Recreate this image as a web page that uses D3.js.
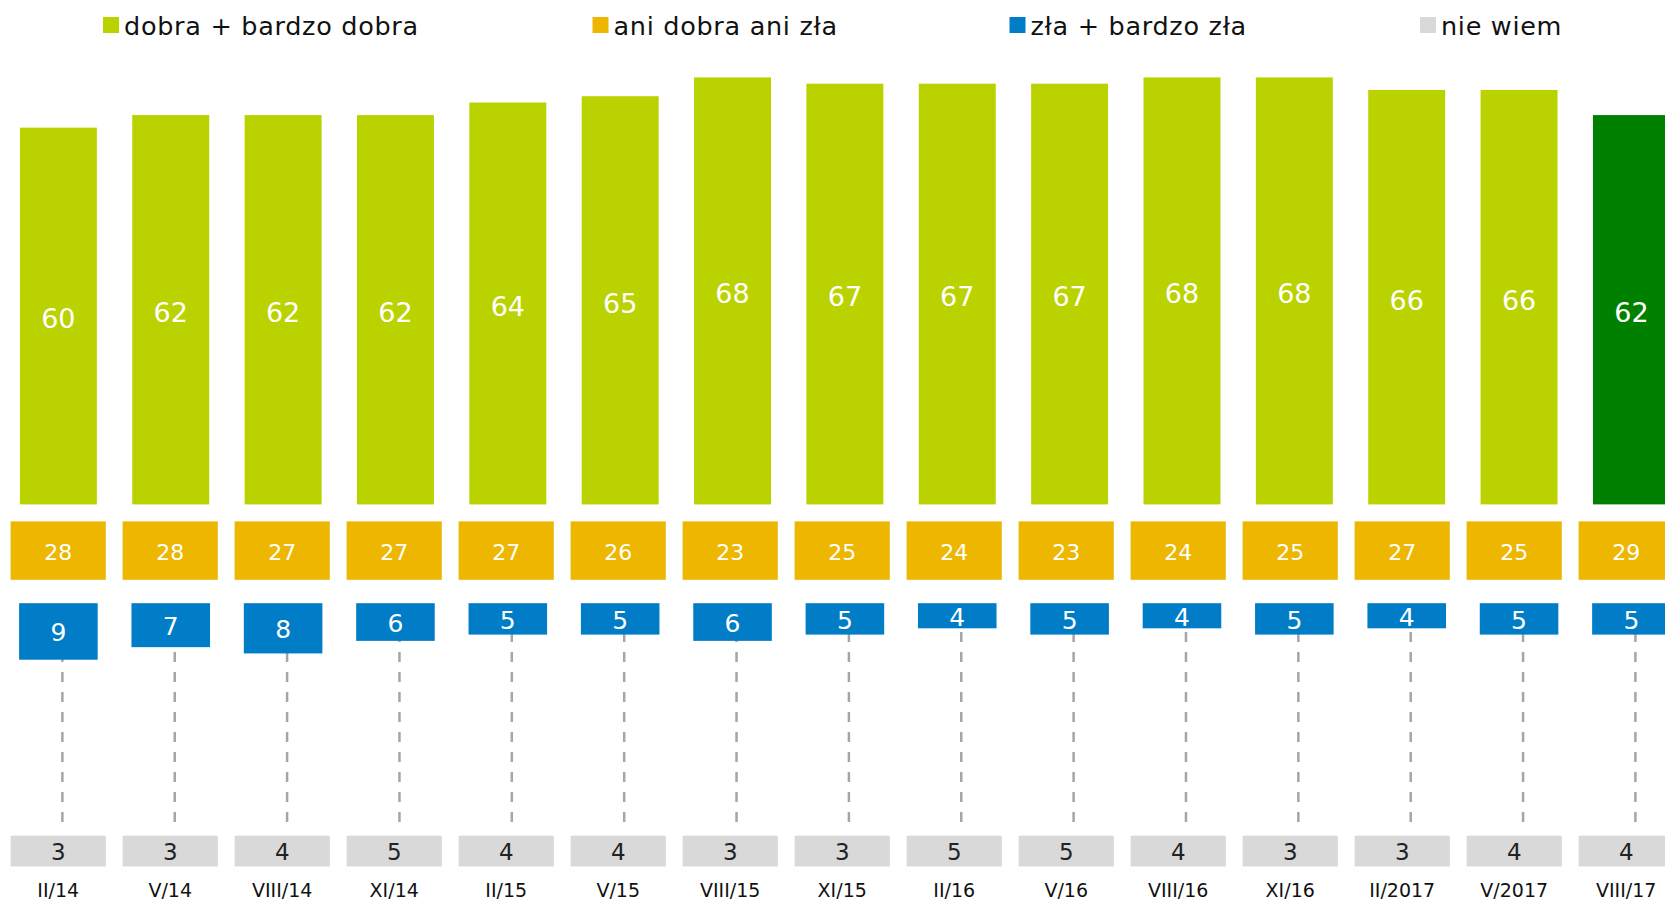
<!DOCTYPE html>
<html>
<head>
<meta charset="utf-8">
<script src="https://cdn.jsdelivr.net/npm/d3@7"></script>
<style>
  body { margin: 0; background: #fff; }
  text { font-family: Verdana, "DejaVu Sans", sans-serif; }
</style>
</head>
<body>
<svg width="1665" height="900"></svg>
<script>
const periods = ["II/14", "V/14", "VIII/14", "XI/14", "II/15", "V/15", "VIII/15", "XI/15",
                 "II/16", "V/16", "VIII/16", "XI/16", "II/2017", "V/2017", "VIII/17"];
const good = [60, 62, 62, 62, 64, 65, 68, 67, 67, 67, 68, 68, 66, 66, 62];
const neither = [28, 28, 27, 27, 27, 26, 23, 25, 24, 23, 24, 25, 27, 25, 29];
const bad = [9, 7, 8, 6, 5, 5, 6, 5, 4, 5, 4, 5, 4, 5, 5];
const dontKnow = [3, 3, 4, 5, 4, 4, 3, 3, 5, 5, 4, 3, 3, 4, 4];
const seriesNames = ["dobra + bardzo dobra", "ani dobra ani zła", "zła + bardzo zła", "nie wiem"];

const colors = {good: "#bad200", latest: "#008000", neither: "#edb600", bad: "#007dc6", dontKnow: "#d9d9d9"};

const svg = d3.select("svg");

// bars (green + blue)
const x = d3.scaleBand()
    .domain(periods)
    .range([2.2, 1687.6])
    .paddingInner(0.315)
    .paddingOuter(0.1575);

// boxes (orange + grey) sit on a slightly tighter grid
const xb = x.copy().range([2.2, 2.2 + 15 * 112.0]);

// one unit is about 6.27px for every bar
const h = d3.scaleLinear().domain([0, 68]).range([0, 427]);

const greenBase = 504.4;
const blueTop = 603.2;
const boxW = xb.step() * 0.85;
const cx = d => x(d) + x.bandwidth() / 2;
const bx = d => xb(d) + xb.bandwidth() / 2;
const last = periods[periods.length - 1];

// legend
const legendX = [103, 592.5, 1009.5, 1420];
const legendCol = [colors.good, colors.neither, colors.bad, colors.dontKnow];
const lg = svg.append("g").selectAll("g")
    .data(seriesNames).enter()
    .append("g")
    .attr("transform", (d, i) => "translate(" + legendX[i] + ",17)");
lg.append("rect").attr("width", 16).attr("height", 16).attr("fill", (d, i) => legendCol[i]);
lg.append("text")
    .attr("x", 21).attr("y", 9)
    .attr("dy", "0.35em")
    .style("font-size", "25.5px")
    .style("letter-spacing", "0.7px")
    .attr("fill", "#111")
    .text(d => d);

// dashed connectors for "nie wiem" (behind the blue boxes)
svg.append("g").selectAll("line")
    .data(periods).enter()
    .append("line")
    .attr("x1", d => cx(d) + 4).attr("x2", d => cx(d) + 4)
    .attr("y1", 612).attr("y2", 822)
    .attr("stroke", "#a6a6a6")
    .attr("stroke-width", 2.5)
    .attr("stroke-dasharray", "10,10");

// dobra + bardzo dobra
const gGood = svg.append("g");
gGood.selectAll("rect")
    .data(good).enter()
    .append("rect")
    .attr("x", (d, i) => x(periods[i]))
    .attr("y", d => greenBase - h(d))
    .attr("width", x.bandwidth())
    .attr("height", d => h(d))
    .attr("fill", (d, i) => periods[i] === last ? colors.latest : colors.good);
gGood.selectAll("text")
    .data(good).enter()
    .append("text")
    .attr("x", (d, i) => cx(periods[i]))
    .attr("y", d => greenBase - h(d) / 2 + 3)
    .attr("dy", "0.35em")
    .attr("text-anchor", "middle")
    .attr("fill", "#fff")
    .style("font-size", "27px")
    .text(d => d);

// ani dobra ani zła
const gNeither = svg.append("g");
gNeither.selectAll("rect")
    .data(neither).enter()
    .append("rect")
    .attr("x", (d, i) => bx(periods[i]) - boxW / 2)
    .attr("y", 521.4)
    .attr("width", boxW)
    .attr("height", 58.4)
    .attr("fill", colors.neither);
gNeither.selectAll("text")
    .data(neither).enter()
    .append("text")
    .attr("x", (d, i) => bx(periods[i]))
    .attr("y", 552.5)
    .attr("dy", "0.35em")
    .attr("text-anchor", "middle")
    .attr("fill", "#fff")
    .style("font-size", "22px")
    .text(d => d);

// zła + bardzo zła
const gBad = svg.append("g");
gBad.selectAll("rect")
    .data(bad).enter()
    .append("rect")
    .attr("x", (d, i) => cx(periods[i]) - x.bandwidth() / 2 - 0.8)
    .attr("y", blueTop)
    .attr("width", x.bandwidth() + 1.6)
    .attr("height", d => h(d))
    .attr("fill", colors.bad);
gBad.selectAll("text")
    .data(bad).enter()
    .append("text")
    .attr("x", (d, i) => cx(periods[i]))
    .attr("y", d => blueTop + h(d) / 2 + 1)
    .attr("dy", "0.35em")
    .attr("text-anchor", "middle")
    .attr("fill", "#fff")
    .style("font-size", "25px")
    .text(d => d);

// nie wiem
const gDk = svg.append("g");
gDk.selectAll("rect")
    .data(dontKnow).enter()
    .append("rect")
    .attr("x", (d, i) => bx(periods[i]) - boxW / 2)
    .attr("y", 835.7)
    .attr("width", boxW)
    .attr("height", 30.8)
    .attr("fill", colors.dontKnow);
gDk.selectAll("text")
    .data(dontKnow).enter()
    .append("text")
    .attr("x", (d, i) => bx(periods[i]))
    .attr("y", 851.5)
    .attr("dy", "0.35em")
    .attr("text-anchor", "middle")
    .attr("fill", "#222")
    .style("font-size", "23px")
    .text(d => d);

// period labels
const xAxis = d3.axisBottom(xb).tickSize(0).tickPadding(0);
svg.append("g")
    .attr("class", "x axis")
    .attr("transform", "translate(0,890)")
    .call(xAxis)
    .call(g => g.select(".domain").remove())
    .call(g => g.selectAll("text")
        .attr("dy", "0.35em")
        .attr("y", 0)
        .attr("fill", "#111")
        .style("font-family", "Verdana, \"DejaVu Sans\", sans-serif")
        .style("font-size", "19px"));
</script>
</body>
</html>
